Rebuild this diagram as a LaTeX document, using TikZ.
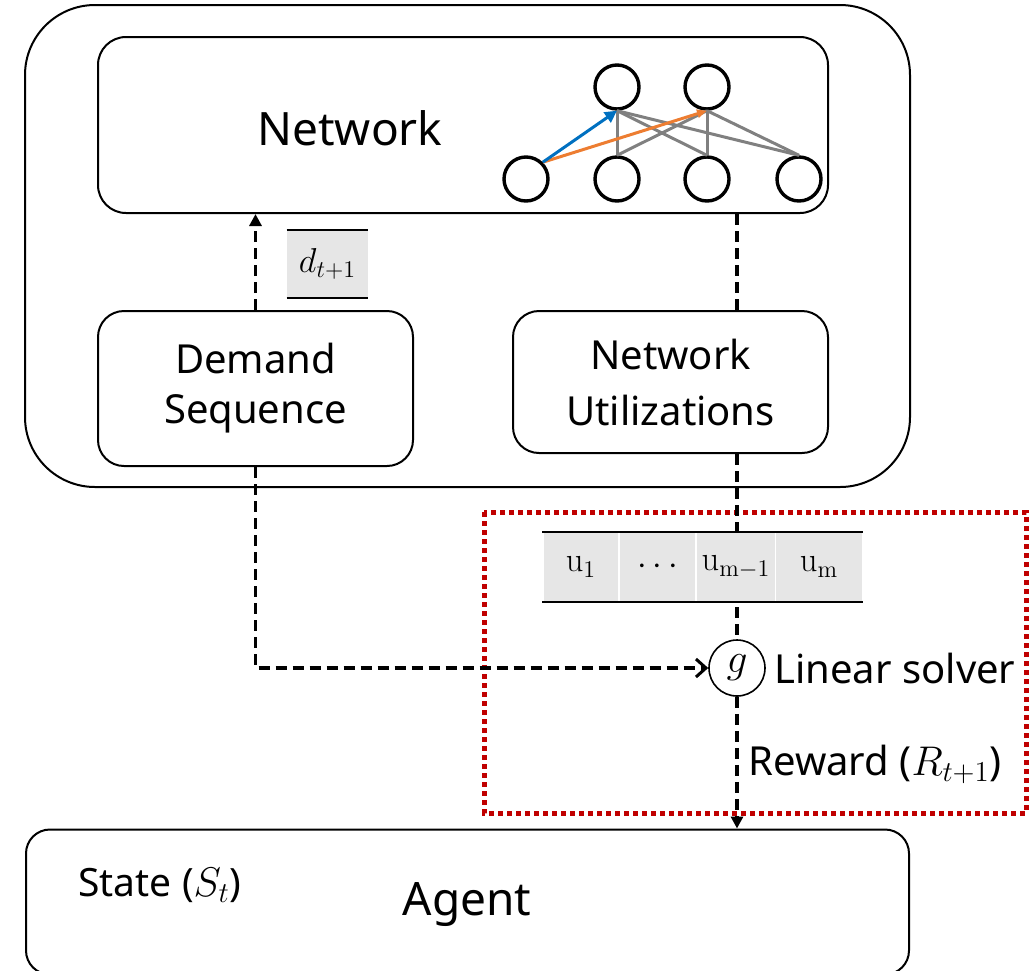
\documentclass[tikz,border=0pt]{standalone}
\usepackage[no-math]{fontspec}
\setmainfont{Noto Sans}
\usetikzlibrary{arrows.meta,calc}
\definecolor{nblue}{RGB}{0,112,192}
\definecolor{norange}{RGB}{237,125,49}
\definecolor{ngray}{RGB}{128,128,128}
\definecolor{dred}{RGB}{192,0,0}
\definecolor{cellgray}{RGB}{230,230,230}
\tikzset{
  box/.style={draw=black, line width=1pt, inner sep=0pt},
  neuron/.style={circle, draw=black, line width=1.7pt, minimum size=22pt, inner sep=0pt},
  glink/.style={draw=ngray, line width=1.5pt},
  dline/.style={draw=black, line width=1.7pt, dash pattern=on 5.5pt off 3pt},
  darrow/.style={dline, -{Triangle[length=6pt,width=6pt]}},
  darrowopen/.style={dline, -{Straight Barb[length=5pt,width=9pt,line width=1.5pt]}},
  cell/.style={fill=cellgray, draw=white, line width=0.8pt, minimum height=34.5pt, inner sep=0pt},
  big/.style={font=\fontsize{23}{27}\selectfont},
  mid/.style={font=\fontsize{20}{24}\selectfont},
}
\begin{document}
\begin{tikzpicture}[x=0.5pt,y=-0.5pt]
\useasboundingbox (0,0) rectangle (1033,970);
% outer environment box
\node[box, rounded corners=35pt, minimum width=442.5pt, minimum height=241pt] (env) at (467.5,246) {};
% network box
\node[box, rounded corners=14pt, minimum width=365pt, minimum height=88pt] (net) at (463,125) {};
\node[big] (nettext) at (350,128) {Network};
% neurons
\node[neuron] (t1) at (617,87) {};
\node[neuron] (t2) at (707,87) {};
\node[neuron] (b1) at (526,179) {};
\node[neuron] (b2) at (617,179) {};
\node[neuron] (b3) at (707,179) {};
\node[neuron] (b4) at (799,179) {};
\foreach \t in {t1,t2}{
  \foreach \b in {b2,b3,b4}{
    \draw[glink] (\t.south) -- (\b.north);
  }
}
\draw[draw=norange, line width=1.5pt, -{Triangle[length=5pt,width=4pt]}] (b1.45) -- (t2.south);
\draw[draw=nblue, line width=1.5pt, -{Triangle[length=6pt,width=6pt]}] (b1.45) -- (t1.south);
% demand sequence and utilizations boxes
\node[box, rounded corners=13pt, minimum width=157.5pt, minimum height=77.5pt, mid, align=center] (ds) at (255.5,388.5) {Demand\\[1pt]Sequence};
\node[box, rounded corners=13pt, minimum width=157.5pt, minimum height=71pt, mid, align=center] (nu) at (670.5,382) {Network\\[4pt]Utilizations};
% d_{t+1}
\node[fill=cellgray, minimum width=40.5pt, minimum height=33.5pt, inner sep=0pt, font=\fontsize{17}{20}\selectfont] (dbox) at (327.5,264) {$d_{t+1}$};
\draw[line width=1pt] (dbox.north west) -- (dbox.north east);
\draw[line width=1pt] (dbox.south west) -- (dbox.south east);
% linear solver region
\draw[draw=dred, line width=2.5pt, dash pattern=on 2.5pt off 2pt] (484,512) rectangle (1026,813);
\node[circle, draw=black, line width=0.8pt, minimum size=28pt, inner sep=0pt, font=\fontsize{20}{24}\selectfont] (g) at (737,668) {$g$};
\node[mid, anchor=west, inner sep=0pt] (lin) at (774,668) {Linear solver};
\node[mid, anchor=west, inner sep=0pt] (rew) at (748,764) {Reward ($R_{t+1}$)};
% connectors
\draw[darrow] (ds.north) -- (ds.north |- net.south);
\draw[dline] (g |- net.south) -- (g |- nu.north);
\draw[dline] (g |- nu.south) -- (g.north);
\draw[darrowopen] (ds.south) |- (g.west);
% utilization vector
\node[cell, minimum width=38pt] (u1) at (581,567) {\fontsize{17}{20}\selectfont$\mathrm{u}_1$};
\node[cell, minimum width=38.5pt] (u2) at (657.5,567) {\fontsize{17}{20}\selectfont$\cdots$};
\node[cell, minimum width=39.5pt] (u3) at (736,567) {\fontsize{17}{20}\selectfont$\mathrm{u}_{\mathrm{m}-1}$};
\node[cell, minimum width=43.5pt] (u4) at (819,567) {\fontsize{17}{20}\selectfont$\mathrm{u}_{\mathrm{m}}$};
\draw[line width=1pt] (u1.north west) -- (u4.north east);
\draw[line width=1pt] (u1.south west) -- (u4.south east);
% agent
\node[box, rounded corners=12pt, minimum width=441.5pt, minimum height=72.5pt] (agent) at (467.5,902) {};
\node[font=\fontsize{19.5}{23}\selectfont] (state) at (160,885) {State ($S_t$)};
\node[big] (agtext) at (467,905) {Agent};
\draw[darrow] (g.south) -- (g |- agent.north);
\end{tikzpicture}
\end{document}
